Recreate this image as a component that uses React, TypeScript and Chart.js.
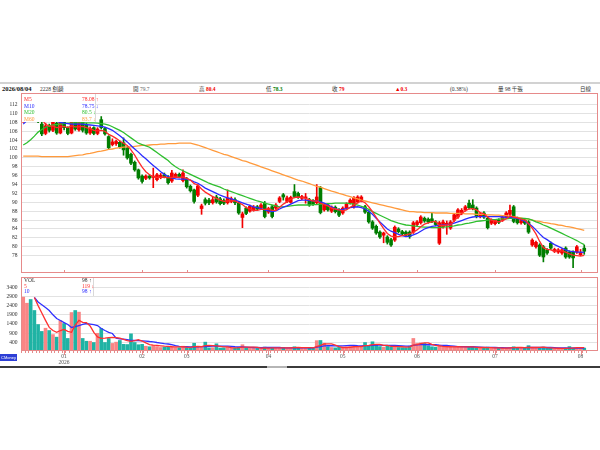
import React, { useEffect, useRef } from 'react';
import Chart from 'chart.js/auto';

// trading days shown on the chart, by month
const tradingDays: [string, number[]][] = [
  ['2025/12', [17, 18, 19, 22, 23, 24, 25, 26, 29, 30, 31]],
  ['2026/01', [2, 5, 6, 7, 8, 9, 12, 13, 14, 15, 16, 19, 20, 21, 22, 23, 26, 27, 28, 29, 30]],
  ['2026/02', [2, 3, 4, 5, 6, 9, 10, 11, 23, 24, 25, 26]],
  ['2026/03', [2, 3, 4, 5, 6, 9, 10, 11, 12, 13, 16, 17, 18, 19, 20, 23, 24, 25, 26, 27, 30, 31]],
  ['2026/04', [1, 2, 7, 8, 9, 10, 13, 14, 15, 16, 17, 20, 21, 22, 23, 24, 27, 28, 29, 30]],
  ['2026/05', [4, 5, 6, 7, 8, 11, 12, 13, 14, 15, 18, 19, 20, 21, 22, 25, 26, 27, 28, 29]],
  ['2026/06', [1, 2, 3, 4, 5, 8, 9, 10, 11, 12, 15, 16, 17, 18, 22, 23, 24, 25, 26, 29, 30]],
  ['2026/07', [1, 2, 3, 6, 7, 8, 9, 10, 13, 14, 15, 16, 17, 20, 21, 22, 23, 24, 27, 28, 29, 30, 31]],
  ['2026/08', [3, 4]],
];

const opens = [
  108.5, 110.5, 111.0, 109.5, 108.8, 107.6, 105.5, 107.2, 106.2, 107.8,
  105.6, 108.0, 106.8, 105.6, 108.2, 106.3, 108.0, 107.4, 105.6, 106.8,
  105.5, 108.6, 106.6, 104.8, 103.0, 103.2, 103.5, 103.4, 102.2, 100.8,
  99.0, 97.3, 95.9, 95.4, 95.9, 95.6, 95.1, 95.8, 96.2, 95.7,
  94.8, 95.8, 96.3, 94.9, 95.3, 93.6, 92.8, 91.6, 88.6, 90.6,
  90.5, 89.9, 91.2, 90.8, 90.4, 89.9, 90.2, 90.6, 89.8, 86.6,
  88.7, 88.0, 88.2, 89.0, 88.7, 89.8, 87.8, 89.0, 88.7, 90.2,
  91.7, 90.2, 90.0, 92.4, 92.0, 90.9, 91.0, 90.6, 90.3, 89.9,
  93.3, 88.3, 89.4, 88.0, 88.9, 88.3, 87.6, 88.7, 89.9, 89.0,
  90.1, 90.4, 89.0, 87.8, 85.6, 84.6, 83.3, 82.6, 82.2, 81.6,
  81.5, 84.0, 83.4, 83.3, 83.3, 83.3, 85.0, 85.4, 86.4, 86.2,
  86.3, 85.6, 80.8, 84.5, 85.0, 84.2, 86.0, 86.7, 87.5, 88.3,
  89.8, 89.4, 88.7, 86.8, 87.6, 86.4, 85.3, 85.2, 86.0, 86.0,
  86.7, 87.3, 89.0, 86.4, 85.4, 86.0, 85.6, 80.4, 80.0, 80.4,
  80.0, 79.3, 80.8, 79.0, 78.8, 78.6, 79.7, 78.8, 78.8, 78.8,
  78.2, 79.7,
];
const highs = [
  111.5, 112.0, 111.5, 110.0, 109.5, 108.0, 107.8, 107.6, 108.3, 108.0,
  108.4, 108.2, 107.0, 108.6, 109.0, 108.5, 108.2, 107.8, 107.0, 107.0,
  106.8, 109.3, 106.9, 105.0, 104.3, 104.0, 103.8, 104.5, 102.5, 101.1,
  99.3, 97.5, 96.2, 96.2, 96.2, 97.7, 96.5, 96.5, 96.6, 96.0,
  97.2, 96.6, 96.6, 97.3, 95.6, 93.9, 93.0, 94.0, 89.6, 91.0,
  90.9, 91.3, 91.6, 91.1, 90.8, 92.8, 91.2, 91.0, 90.1, 87.8,
  89.0, 89.4, 89.3, 89.3, 89.7, 90.2, 88.9, 89.3, 89.7, 91.3,
  92.0, 91.4, 91.4, 94.0, 92.3, 91.6, 92.0, 90.9, 90.6, 94.0,
  93.6, 89.7, 89.7, 89.2, 89.2, 88.6, 89.0, 89.9, 90.8, 91.3,
  91.5, 91.5, 89.3, 88.1, 85.9, 84.9, 83.6, 83.3, 82.5, 81.9,
  84.7, 84.3, 83.7, 83.6, 83.6, 85.7, 85.9, 87.0, 86.7, 86.5,
  87.5, 85.9, 85.7, 86.0, 85.8, 85.9, 87.5, 88.6, 88.6, 89.3,
  90.5, 90.6, 89.0, 87.7, 87.9, 86.7, 86.3, 86.2, 86.3, 87.0,
  87.9, 89.4, 89.3, 86.7, 86.2, 86.3, 85.9, 81.8, 81.3, 80.7,
  80.3, 79.6, 81.1, 79.7, 79.6, 79.6, 80.0, 79.1, 79.1, 80.3,
  79.4, 80.4,
];
const lows = [
  108.0, 109.5, 109.0, 108.2, 107.9, 105.0, 105.2, 105.8, 105.9, 105.3,
  105.4, 106.3, 105.2, 105.4, 106.2, 106.0, 105.8, 105.3, 105.3, 105.2,
  105.2, 106.5, 105.1, 102.0, 102.7, 102.8, 102.2, 100.6, 99.7, 98.5,
  97.0, 95.2, 94.3, 95.1, 95.2, 93.3, 94.8, 95.3, 95.5, 94.1,
  94.5, 95.5, 95.5, 94.6, 93.2, 92.3, 89.8, 91.3, 87.3, 89.4,
  89.5, 89.6, 89.8, 89.4, 89.5, 89.6, 89.9, 89.5, 87.3, 84.3,
  87.2, 87.8, 88.0, 88.2, 88.4, 86.5, 87.5, 86.5, 88.4, 89.9,
  90.5, 89.9, 89.8, 91.0, 90.9, 90.6, 89.8, 89.1, 89.3, 89.6,
  87.4, 88.0, 88.0, 87.7, 87.6, 86.8, 87.3, 88.4, 89.6, 88.7,
  89.8, 90.1, 87.5, 85.3, 83.9, 82.8, 81.9, 80.9, 80.6, 80.1,
  81.2, 83.1, 82.6, 82.3, 81.9, 83.0, 84.7, 85.1, 85.5, 85.3,
  85.4, 84.7, 80.5, 84.2, 82.8, 83.9, 85.7, 86.4, 87.2, 88.0,
  88.5, 88.3, 86.5, 86.5, 86.4, 84.0, 85.0, 84.9, 85.2, 85.7,
  86.4, 87.0, 85.4, 85.1, 85.1, 85.0, 83.0, 80.1, 79.7, 77.8,
  76.6, 78.3, 79.4, 78.7, 78.5, 78.3, 77.4, 77.4, 75.3, 78.5,
  78.0, 78.3,
];
const closes = [
  110.5, 111.0, 109.5, 108.8, 108.2, 105.4, 107.2, 106.2, 108.0, 105.6,
  108.0, 106.8, 105.5, 108.2, 106.5, 108.0, 106.2, 105.6, 106.6, 105.5,
  106.5, 106.8, 105.4, 102.3, 103.6, 103.7, 102.5, 101.8, 100.0, 98.8,
  97.3, 95.5, 94.7, 95.9, 95.5, 95.9, 96.2, 96.1, 95.8, 94.4,
  96.6, 96.3, 95.8, 96.6, 93.5, 92.6, 90.2, 93.7, 89.2, 89.8,
  89.9, 90.6, 90.1, 89.7, 89.8, 91.0, 90.8, 89.9, 87.6, 87.4,
  87.5, 89.1, 88.9, 88.5, 89.4, 86.8, 88.6, 86.8, 89.4, 91.0,
  91.2, 91.0, 91.1, 91.3, 91.2, 91.3, 91.2, 89.4, 89.6, 91.2,
  87.7, 89.4, 88.3, 88.9, 87.9, 87.1, 88.7, 89.6, 90.5, 91.0,
  91.2, 91.2, 87.8, 85.6, 84.2, 83.1, 82.2, 83.1, 81.0, 80.4,
  84.4, 83.4, 82.9, 82.6, 82.3, 85.4, 85.6, 86.7, 85.8, 85.6,
  85.7, 85.0, 85.4, 85.6, 85.3, 85.6, 87.2, 88.3, 88.2, 89.0,
  88.8, 88.6, 86.8, 87.4, 86.7, 84.3, 86.0, 85.9, 85.5, 86.7,
  87.6, 88.2, 85.7, 85.4, 85.9, 85.3, 83.3, 81.5, 81.0, 78.1,
  77.7, 78.6, 79.7, 79.4, 79.3, 79.3, 77.7, 77.7, 77.5, 80.0,
  78.7, 79.0,
];

// volume, 千張
const volumes = [
  2860, 2530, 2730, 2135, 1375, 1000, 1175, 1050, 830, 690,
  1590, 1430, 620, 2025, 2135, 2045, 620, 470, 470, 400,
  900, 1160, 400, 620, 350, 420, 510, 300, 290, 870,
  400, 280, 300, 200, 170, 240, 180, 130, 150, 190,
  210, 130, 120, 200, 120, 110, 360, 150, 150, 420,
  110, 120, 330, 100, 110, 160, 100, 90, 140, 280,
  120, 110, 90, 80, 100, 150, 90, 120, 90, 110,
  130, 100, 110, 170, 120, 90, 100, 110, 100, 500,
  510, 360, 170, 130, 110, 140, 120, 160, 190, 220,
  180, 150, 400, 240, 440, 260, 180, 150, 210, 160,
  240, 130, 120, 110, 200, 620, 360, 380, 350, 220,
  170, 150, 260, 160, 130, 140, 170, 190, 150, 130,
  170, 140, 120, 100, 110, 150, 100, 90, 80, 100,
  120, 140, 170, 110, 90, 100, 230, 130, 110, 120,
  150, 100, 90, 70, 60, 80, 90, 180, 110, 120,
  100, 98,
];

const ma5 = [
  110.0, 110.3, 110.2, 109.9, 109.6, 108.6, 107.6, 107.1, 107.2, 106.8,
  107.0, 107.1, 106.8, 107.2, 107.0, 107.0, 107.1, 106.8, 106.6, 106.2,
  106.1, 106.2, 106.0, 105.3, 104.9, 104.4, 103.8, 103.3, 102.8, 101.8,
  100.6, 99.2, 97.9, 96.9, 96.2, 95.8, 95.6, 95.6, 95.7, 95.5,
  95.6, 95.7, 95.6, 95.7, 95.4, 95.0, 94.2, 93.9, 93.0, 92.3,
  91.8, 91.3, 90.9, 90.5, 90.2, 90.3, 90.4, 90.3, 89.9, 89.5,
  88.8, 88.5, 88.2, 88.2, 88.4, 88.4, 88.5, 88.2, 88.2, 88.9,
  89.6, 90.1, 90.7, 91.1, 91.2, 91.1, 90.9, 90.6, 90.3, 90.3,
  89.8, 89.5, 89.2, 88.7, 88.5, 88.3, 88.1, 88.3, 88.9, 89.4,
  89.9, 90.3, 89.9, 89.0, 87.9, 86.6, 85.3, 84.1, 83.0, 82.4,
  82.3, 82.3, 82.5, 82.7, 82.9, 83.3, 83.8, 84.5, 85.1, 85.4,
  85.6, 85.7, 84.8, 84.8, 84.9, 85.0, 85.8, 86.8, 87.5, 88.1,
  88.5, 88.6, 88.3, 87.7, 87.4, 86.7, 86.0, 85.8, 85.6, 85.9,
  86.3, 86.9, 86.7, 86.5, 86.2, 86.0, 85.2, 84.2, 82.9, 81.2,
  79.8, 79.4, 79.3, 79.0, 79.2, 79.1, 78.8, 78.4, 78.1, 78.0,
  77.9, 78.08,
];
const ma10 = [
  107.6, 108.4, 108.9, 109.2, 109.3, 109.1, 108.9, 108.6, 108.4, 108.2,
  108.0, 107.8, 107.7, 107.6, 107.6, 107.6, 107.6, 107.5, 107.4, 107.3,
  107.2, 107.1, 106.9, 106.6, 106.2, 105.6, 105.0, 104.3, 103.6, 102.8,
  102.0, 101.3, 100.5, 99.8, 99.0, 98.3, 97.6, 96.9, 96.3, 95.8,
  95.5, 95.3, 95.2, 95.2, 95.2, 95.0, 94.6, 94.3, 93.8, 93.2,
  92.8, 92.4, 92.0, 91.6, 91.3, 91.0, 90.8, 90.5, 90.2, 89.9,
  89.6, 89.3, 89.0, 88.8, 88.6, 88.3, 88.1, 87.9, 88.1, 88.5,
  88.9, 89.2, 89.6, 90.0, 90.4, 90.5, 90.5, 90.4, 90.4, 90.3,
  90.1, 89.8, 89.4, 89.0, 88.6, 88.3, 88.4, 88.6, 88.8, 88.9,
  89.0, 88.8, 88.5, 88.0, 87.3, 86.4, 85.6, 84.8, 84.0, 83.5,
  83.2, 82.8, 82.5, 82.3, 82.4, 82.7, 83.0, 83.5, 84.0, 84.3,
  84.6, 84.7, 84.8, 84.9, 85.0, 85.1, 85.3, 85.6, 85.9, 86.2,
  86.5, 86.7, 86.8, 86.8, 86.8, 86.8, 86.8, 86.8, 86.8, 86.7,
  86.6, 86.6, 86.5, 86.4, 86.1, 85.7, 85.2, 84.6, 83.8, 82.9,
  82.1, 81.6, 81.0, 80.5, 80.1, 79.7, 79.3, 79.0, 78.9, 78.8,
  78.8, 78.75,
];
const ma20 = [
  102.9, 103.4, 104.1, 104.9, 105.8, 106.4, 106.9, 107.2, 107.4, 107.5,
  107.6, 107.7, 107.8, 107.8, 107.9, 107.9, 107.9, 107.9, 107.9, 107.9,
  107.8, 107.7, 107.6, 107.4, 107.0, 106.6, 106.2, 105.7, 105.1, 104.5,
  103.9, 103.3, 103.0, 102.7, 102.4, 101.8, 101.2, 100.6, 100.0, 99.4,
  98.6, 98.0, 97.5, 97.1, 96.7, 96.3, 95.9, 95.5, 95.1, 94.7,
  94.3, 94.0, 93.7, 93.4, 93.0, 92.7, 92.4, 92.1, 91.8, 91.5,
  91.2, 90.9, 90.6, 90.3, 90.1, 89.8, 89.6, 89.4, 89.2, 89.0,
  89.0, 89.1, 89.2, 89.3, 89.4, 89.4, 89.4, 89.4, 89.5, 89.5,
  89.6, 89.6, 89.7, 89.7, 89.8, 89.8, 89.8, 89.8, 89.7, 89.6,
  89.4, 89.1, 88.8, 88.4, 87.9, 87.5, 87.1, 86.7, 86.3, 85.9,
  85.6, 85.3, 85.1, 84.9, 84.8, 84.7, 84.6, 84.5, 84.4, 84.4,
  84.3, 84.3, 84.3, 84.4, 84.5, 84.6, 84.7, 84.9, 85.0, 85.2,
  85.3, 85.5, 85.7, 85.8, 85.9, 86.0, 86.1, 86.1, 86.2, 86.3,
  86.3, 86.4, 86.4, 86.4, 86.4, 86.4, 86.3, 86.0, 85.6, 85.3,
  84.9, 84.6, 84.2, 83.8, 83.4, 83.0, 82.6, 82.2, 81.8, 81.4,
  80.9, 80.5,
];
const ma60 = [
  100.4, 100.4, 100.4, 100.4, 100.4, 100.3, 100.3, 100.3, 100.3, 100.3,
  100.3, 100.3, 100.3, 100.4, 100.5, 100.6, 100.7, 100.9, 101.0, 101.2,
  101.4, 101.5, 101.7, 101.9, 102.0, 102.2, 102.3, 102.4, 102.5, 102.5,
  102.6, 102.7, 102.8, 102.8, 102.9, 103.0, 103.0, 103.1, 103.1, 103.2,
  103.2, 103.2, 103.3, 103.3, 103.3, 103.3, 103.1, 102.9, 102.6, 102.3,
  102.0, 101.7, 101.4, 101.1, 100.8, 100.6, 100.3, 100.0, 99.7, 99.4,
  99.2, 98.9, 98.6, 98.3, 98.0, 97.7, 97.4, 97.1, 96.8, 96.5,
  96.2, 95.9, 95.6, 95.3, 95.0, 94.8, 94.5, 94.2, 93.9, 93.6,
  93.4, 93.1, 92.8, 92.5, 92.3, 92.0, 91.8, 91.5, 91.3, 91.0,
  90.8, 90.5, 90.3, 90.1, 89.9, 89.7, 89.5, 89.3, 89.1, 88.9,
  88.7, 88.5, 88.3, 88.1, 87.9, 87.9, 87.8, 87.8, 87.7, 87.7,
  87.7, 87.6, 87.6, 87.6, 87.6, 87.5, 87.5, 87.5, 87.5, 87.4,
  87.4, 87.4, 87.3, 87.3, 87.3, 87.2, 87.2, 87.1, 87.1, 87.0,
  87.0, 86.9, 86.8, 86.6, 86.5, 86.3, 86.2, 86.0, 85.8, 85.7,
  85.5, 85.4, 85.2, 85.1, 84.9, 84.8, 84.6, 84.5, 84.3, 84.1,
  83.9, 83.7,
];

const volMa5 = [
  null, null, null, 2840, 2400, 2000, 1600, 1220, 1050, 950,
  1050, 1110, 1000, 950, 1350, 1600, 1490, 1480, 1300, 950,
  700, 620, 640, 670, 680, 670, 640, 570, 500, 460,
  500, 550, 480, 380, 290, 260, 240, 220, 200, 190,
  170, 160, 160, 170, 150, 140, 180, 190, 180, 230,
  240, 230, 220, 190, 160, 160, 120, 110, 120, 150,
  150, 150, 150, 140, 100, 110, 100, 110, 110, 110,
  110, 110, 110, 120, 130, 120, 120, 120, 105, 180,
  240, 320, 330, 330, 260, 180, 130, 130, 140, 170,
  180, 180, 230, 240, 280, 300, 300, 250, 250, 190,
  190, 180, 170, 150, 160, 260, 290, 340, 380, 380,
  300, 250, 220, 190, 170, 170, 160, 170, 160, 160,
  160, 160, 140, 130, 130, 120, 120, 110, 110, 100,
  100, 110, 120, 130, 130, 120, 140, 130, 130, 140,
  150, 120, 110, 100, 90, 80, 80, 100, 100, 120,
  120, 119,
];
const volMa10 = [
  null, null, null, 2840, 2600, 2450, 2300, 2135, 1900, 1700,
  1590, 1480, 1375, 1215, 1260, 1320, 1380, 1430, 1400, 1370,
  1320, 1160, 1050, 950, 890, 640, 600, 580, 550, 520,
  510, 500, 490, 480, 455, 440, 400, 370, 340, 320,
  280, 230, 190, 180, 170, 160, 170, 170, 180, 180,
  190, 200, 200, 200, 200, 200, 190, 170, 160, 160,
  150, 140, 130, 130, 120, 130, 130, 130, 130, 130,
  110, 110, 110, 115, 120, 115, 115, 115, 110, 150,
  180, 220, 225, 225, 220, 220, 220, 230, 240, 250,
  230, 220, 230, 230, 250, 260, 260, 250, 250, 240,
  240, 230, 220, 200, 200, 250, 270, 280, 290, 280,
  280, 280, 260, 250, 240, 220, 200, 180, 180, 170,
  170, 170, 160, 150, 140, 140, 140, 130, 120, 120,
  110, 110, 120, 120, 120, 120, 130, 130, 130, 130,
  130, 130, 130, 120, 110, 110, 105, 100, 100, 100,
  100, 98,
];

const priceTicks = [112, 110, 108, 106, 104, 102, 100, 98, 96, 94, 92, 90, 88, 86, 84, 82, 80, 78];
const volumeTicks = [3400, 2900, 2400, 1900, 1400, 900, 400];

const dates = tradingDays.flatMap(([month, days]) => days.map((d) => `${month}/${String(d).padStart(2, '0')}`));
const monthStarts = dates
  .map((_, i) => i)
  .filter((i) => i > 0 && dates[i].slice(0, 7) !== dates[i - 1].slice(0, 7));
const monthLabels = monthStarts.map((i) => {
  const [year, month] = dates[i].split('/');
  return month === '01' ? [month, year] : month;
});

const UP = '#f20000';
const DOWN = '#007d00';
const VOL_UP = '#f98585';
const VOL_DOWN = '#1fb3a4';
const FRAME = '#e68a8a';
const GRID = '#e2e2e2';
const SERIF = "'Liberation Serif', 'DejaVu Serif', 'Noto Sans CJK TC', serif";
const X_MIN = -0.6;
const X_MAX = 154.7;

const isUp = (i: number) => closes[i] >= opens[i];

const framePlugin = {
  id: 'frame',
  afterDraw(chart: any, _args: any, opts: any) {
    const { ctx, chartArea: a, scales } = chart;
    ctx.save();
    ctx.strokeStyle = FRAME;
    ctx.lineWidth = 1;
    ctx.strokeRect(Math.round(a.left) + 0.5, Math.round(a.top) + 0.5, Math.round(a.right - a.left) - 1, Math.round(a.bottom - a.top) - 1);
    ctx.beginPath();
    monthStarts.forEach((i) => {
      const x = Math.round(scales.x.getPixelForValue(i)) + 0.5;
      ctx.moveTo(x, a.bottom);
      ctx.lineTo(x, a.bottom + opts.tick);
    });
    ctx.stroke();
    ctx.restore();
  },
};

const maLine = (label: string, values: (number | null)[], color: string, order: number) => ({
  type: 'line' as const,
  label,
  data: values.map((y, x) => ({ x, y })),
  borderColor: color,
  borderWidth: 1.3,
  pointRadius: 0,
  tension: 0,
  order,
});

const tickFont = { family: SERIF, size: 5.5, lineHeight: 1 };

// x axis shared by both panels: one tick per trading day
const dayAxis = (height: number, showLabels: boolean) => ({
  type: 'linear',
  min: X_MIN,
  max: X_MAX,
  offset: false,
  afterFit: (s: any) => {
    s.height = height;
    s.paddingLeft = 0;
    s.paddingRight = 0;
  },
  afterBuildTicks: (s: any) => { s.ticks = dates.map((_, value) => ({ value })); },
  ticks: {
    autoSkip: false,
    maxRotation: 0,
    padding: 1,
    font: tickFont,
    color: '#555',
    callback: (v: any) => {
      const k = monthStarts.indexOf(v);
      return showLabels && k >= 0 ? monthLabels[k] : '';
    },
  },
  grid: { drawOnChartArea: false, drawTicks: showLabels, tickLength: 2, color: FRAME },
  border: { display: false },
});

const valueAxis = (min: number, max: number, ticks: number[]) => ({
  min,
  max,
  afterFit: (s: any) => {
    s.width = 21;
    s.paddingTop = 0;
    s.paddingBottom = 0;
  },
  afterBuildTicks: (s: any) => { s.ticks = ticks.map((value) => ({ value })); },
  ticks: { font: tickFont, color: '#333', padding: 3.5, callback: (v: any) => String(v) },
  grid: { color: GRID, drawTicks: false },
  border: { display: false },
});

const App: React.FC = () => {
  const priceRef = useRef<HTMLCanvasElement | null>(null);
  const volumeRef = useRef<HTMLCanvasElement | null>(null);

  useEffect(() => {
    const pctx = priceRef.current?.getContext('2d');
    const vctx = volumeRef.current?.getContext('2d');
    if (!pctx || !vctx) return;

    const priceChart = new Chart(pctx, {
      type: 'bar',
      data: {
        datasets: [
          maLine('M5', ma5, '#ff2a2a', 0),
          maLine('M10', ma10, '#2b2bff', 1),
          maLine('M20', ma20, '#2fbf2f', 2),
          maLine('M60', ma60, '#ff9a3c', 3),
          {
            type: 'bar',
            label: 'body',
            data: closes.map((c, i) => ({ x: i, y: [opens[i], c] })),
            backgroundColor: (c: any) => (isUp(c.dataIndex) ? UP : DOWN),
            barThickness: 3,
            minBarLength: 1,
            grouped: false,
            order: 10,
          },
          {
            type: 'bar',
            label: 'wick',
            data: highs.map((h, i) => ({ x: i, y: [lows[i], h] })),
            backgroundColor: (c: any) => (isUp(c.dataIndex) ? UP : DOWN),
            barThickness: 1,
            grouped: false,
            order: 11,
          },
        ] as any,
      },
      options: {
        animation: false,
        responsive: false,
        events: [],
        layout: { padding: { top: 3, right: 2, bottom: 3, left: 0 } },
        plugins: { legend: { display: false }, tooltip: { enabled: false }, frame: { tick: -3 } } as any,
        scales: {
          x: dayAxis(0, false) as any,
          y: valueAxis(74.1, 114.6, priceTicks) as any,
        },
      },
      plugins: [framePlugin],
    });

    const volumeChart = new Chart(vctx, {
      type: 'bar',
      data: {
        datasets: [
          maLine('5', volMa5, '#ff3030', 0),
          maLine('10', volMa10, '#3030ff', 1),
          {
            type: 'bar',
            label: 'VOL',
            data: volumes.map((v, i) => ({ x: i, y: v })),
            backgroundColor: (c: any) => (isUp(c.dataIndex) ? VOL_UP : VOL_DOWN),
            barThickness: 3,
            grouped: false,
            order: 10,
          },
        ] as any,
      },
      options: {
        animation: false,
        responsive: false,
        events: [],
        layout: { padding: { top: 3, right: 2, bottom: 0, left: 0 } },
        plugins: { legend: { display: false }, tooltip: { enabled: false }, frame: { tick: 4 } } as any,
        scales: {
          x: dayAxis(19, true) as any,
          y: valueAxis(-60, 3950, volumeTicks) as any,
        },
      },
      plugins: [framePlugin],
    });

    return () => {
      priceChart.destroy();
      volumeChart.destroy();
    };
  }, []);

  const abs = (left: number, top: number, extra: React.CSSProperties = {}): React.CSSProperties => ({
    position: 'absolute',
    left,
    top,
    whiteSpace: 'nowrap',
    ...extra,
  });
  const head: React.CSSProperties = { fontSize: 5.5, lineHeight: '8px', color: '#333' };
  const row = (top: number, color: string, name: string, value: string, h: number) => (
    <div style={abs(2, top, { color, fontSize: 5.5, lineHeight: `${h}px` })}>
      {name}
      <span style={abs(58, 0)}>{value}</span>
    </div>
  );

  return (
    <div style={{ position: 'fixed', left: 0, top: 0, width: 600, height: 450, background: '#fff', overflow: 'hidden', fontFamily: SERIF }}>
      <div style={abs(0, 82, { width: 600, height: 2, background: '#d2d2d2' })} />

      <div style={abs(2, 85, { ...head, fontSize: 6.5, fontWeight: 700, color: '#111' })}>2026/08/04</div>
      <div style={abs(40, 85, head)}>2228 劍麟</div>
      <div style={abs(133, 85, head)}>開 <span style={{ color: '#666' }}>79.7</span></div>
      <div style={abs(199, 85, head)}>高 <b style={{ color: UP }}>80.4</b></div>
      <div style={abs(266, 85, head)}>低 <b style={{ color: DOWN }}>78.3</b></div>
      <div style={abs(332, 85, head)}>收 <b style={{ color: UP }}>79</b></div>
      <div style={abs(395, 85, { ...head, color: UP, fontWeight: 700 })}>▲0.3</div>
      <div style={abs(450, 85, head)}>(0.38%)</div>
      <div style={abs(498, 85, head)}>量 98 千張</div>
      <div style={abs(580, 85, head)}>日線</div>

      <canvas ref={priceRef} width={600} height={186} style={abs(0, 90)} />
      <canvas ref={volumeRef} width={600} height={96} style={abs(0, 274)} />

      <div style={abs(22, 94, { width: 73, height: 28, background: '#fff', borderRight: '1px solid #d9d9d9' })}>
        {row(2, '#ff2a2a', 'M5', '78.08 ↑', 6.5)}
        {row(8.5, '#2b2bff', 'M10', '78.75 ↓', 6.5)}
        {row(15, '#2fbf2f', 'M20', '80.5 ↓', 6.5)}
        {row(21.5, '#ff9a3c', 'M60', '83.7 ↓', 6.5)}
      </div>

      <div style={abs(22, 278, { width: 71, height: 18, background: '#fff', borderRight: '1px solid #d9d9d9' })}>
        {row(0, '#333', 'VOL', '98 ↑', 5.6)}
        {row(5.6, '#ff3030', '5', '119 ↓', 5.6)}
        {row(11.2, '#3030ff', '10', '98 ↑', 5.6)}
      </div>

      <div style={abs(0, 354, { width: 17, height: 7, background: '#2d3fd6', color: '#fff', fontSize: 4, lineHeight: '7px', textAlign: 'center', fontFamily: 'Arial, sans-serif' })}>CMoney</div>
      <div style={abs(0, 366, { width: 600, height: 1.5, background: '#3b3b3b' })} />
      <div style={abs(267, 366, { width: 20, height: 1.5, background: '#b5b5b5' })} />
    </div>
  );
};

export default App;
